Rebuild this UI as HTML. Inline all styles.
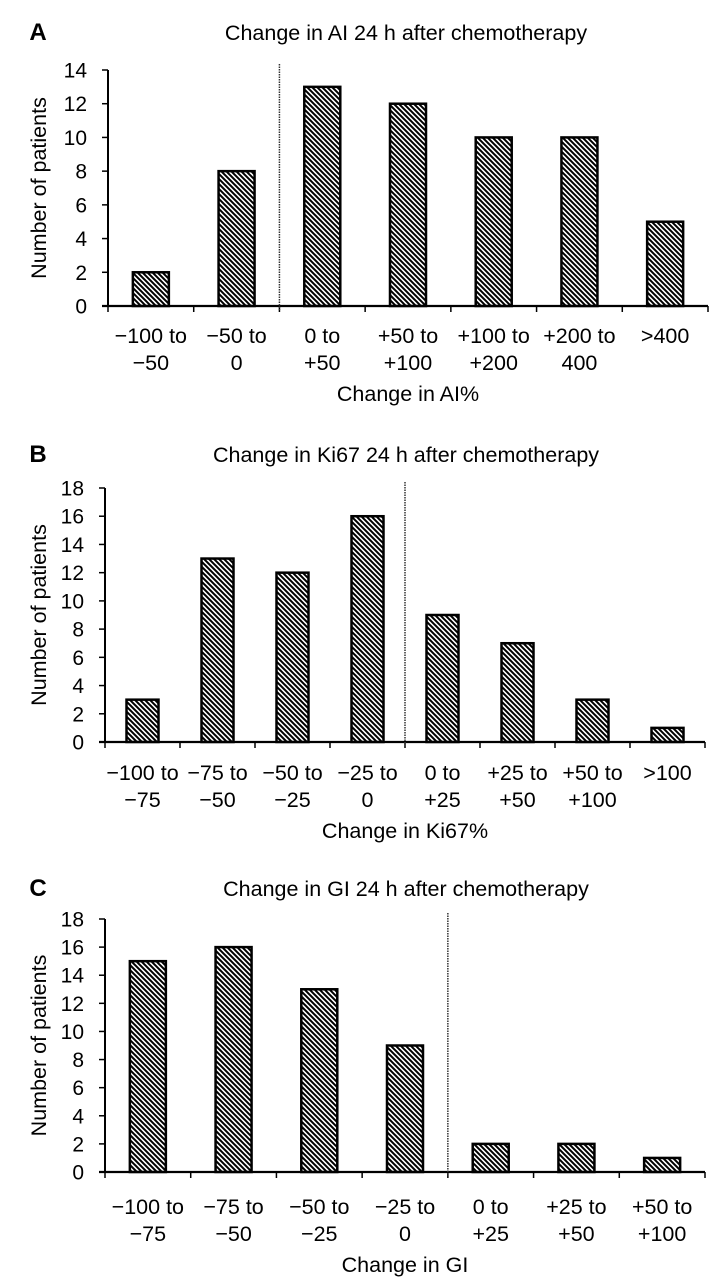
<!DOCTYPE html>
<html><head><meta charset="utf-8"><style>
body{margin:0;background:#fff;}
svg{display:block;font-family:"Liberation Sans",Arial,sans-serif;}
</style></head><body>
<svg id="fig" width="710" height="1283" viewBox="0 0 710 1283">
<defs>
<pattern id="hatch" patternUnits="userSpaceOnUse" width="5" height="5">
<path d="M0,0 L5,5 M-1,4 L1,6 M4,-1 L6,1" stroke="#000" stroke-width="2"/>
</pattern>
</defs>
</svg>
<script>
const catsA = [["−100 to","−50"],["−50 to","0"],["0 to","+50"],["+50 to","+100"],["+100 to","+200"],["+200 to","400"],[">400",""]];
const valsA = [2,8,13,12,10,10,5];
const ticksA = [0,2,4,6,8,10,12,14];
const catsB = [["−100 to","−75"],["−75 to","−50"],["−50 to","−25"],["−25 to","0"],["0 to","+25"],["+25 to","+50"],["+50 to","+100"],[">100",""]];
const valsB = [3,13,12,16,9,7,3,1];
const ticksB = [0,2,4,6,8,10,12,14,16,18];
const catsC = [["−100 to","−75"],["−75 to","−50"],["−50 to","−25"],["−25 to","0"],["0 to","+25"],["+25 to","+50"],["+50 to","+100"]];
const valsC = [15,16,13,9,2,2,1];
const ticksC = [0,2,4,6,8,10,12,14,16,18];

const svg = document.getElementById('fig');
const NS = 'http://www.w3.org/2000/svg';
function mk(tag, attrs, parent){const e=document.createElementNS(NS,tag);for(const k in attrs)e.setAttribute(k,attrs[k]);(parent||svg).appendChild(e);return e;}
function txt(s,x,y,size,anchor,parent,weight){const t=mk('text',{x:x,y:y,'font-size':size,'text-anchor':anchor||'middle',fill:'#000'},parent);if(weight)t.setAttribute('font-weight',weight);t.textContent=s;return t;}

function panel(o){
  const g = mk('g',{});
  
  
  const n = o.cats.length;
  const step = o.w / n;
  const ymax = o.ticks[o.ticks.length-1];
  const X = i => o.x0 + step*i;
  const Y = v => o.y0 - (o.y0 - o.yTop) * v / ymax;
  const L = txt(o.letter, 38, o.titleY, 24, 'middle', g, 'bold');
  
  
  const T = txt(o.title, o.titleX, o.titleY, 21.5, 'middle', g);
  
  
  const ya = mk('line',{x1:o.x0,y1:o.yTop,x2:o.x0,y2:o.y0+1,stroke:'#000','stroke-width':2},g);
  
  
  o.ticks.forEach(t=>{
    mk('line',{x1:o.x0-6,y1:Y(t),x2:o.x0,y2:Y(t),stroke:'#000','stroke-width':1.5},g);
    const tl = txt(String(t), o.x0-21, Y(t)+7.5, 21, 'end', g);
    
    
  });
  const yt = txt('Number of patients', 0, 0, 21.5, 'middle', g);
  yt.setAttribute('transform', 'translate(46,'+((o.yTop+o.y0)/2)+') rotate(-90)');
  
  
  o.vals.forEach((v,i)=>{
    const cx = X(i+0.5);
    const r = mk('rect',{x:cx-o.bw/2,y:Y(v),width:o.bw,height:o.y0-Y(v),fill:'url(#hatch)',stroke:'#000','stroke-width':2.5},g);
    
    
  });
  const xa = mk('line',{x1:o.x0-6,y1:o.y0,x2:o.x0+o.w,y2:o.y0,stroke:'#000','stroke-width':2.2},g);
  
  
  for(let i=0;i<=n;i++) mk('line',{x1:X(i),y1:o.y0,x2:X(i),y2:o.y0+6,stroke:'#000','stroke-width':1.5},g);
  o.cats.forEach((c,i)=>{
    const cx = X(i+0.5);
    const a = txt(c[0], cx, o.lab1, 21.5, 'middle', g);
    
    
    if(c[1]){const b = txt(c[1], cx, o.lab1+27, 21.5, 'middle', g);
      
      }
  });
  const xt = txt(o.xlabel, o.x0+o.w/2, o.lab1+58, 21.5, 'middle', g);
  
  
  const d = mk('line',{x1:X(o.div),y1:o.yTop-6,x2:X(o.div),y2:o.y0+4,stroke:'#333','stroke-width':1.5,'stroke-dasharray':'1.5,1'},g);
  
  
}

panel({id:'a',letter:'A',title:'Change in AI 24 h after chemotherapy',titleX:406,titleY:40,cats:catsA,vals:valsA,ticks:ticksA,x0:108,w:600,yTop:70,y0:306,bw:36,lab1:343,xlabel:'Change in AI%',div:2});
panel({id:'b',letter:'B',title:'Change in Ki67 24 h after chemotherapy',titleX:406,titleY:462,cats:catsB,vals:valsB,ticks:ticksB,x0:105,w:600,yTop:488,y0:742,bw:32,lab1:780,xlabel:'Change in Ki67%',div:4});
panel({id:'c',letter:'C',title:'Change in GI 24 h after chemotherapy',titleX:406,titleY:896,cats:catsC,vals:valsC,ticks:ticksC,x0:105,w:600,yTop:919,y0:1172,bw:36,lab1:1214,xlabel:'Change in GI',div:4});
</script>
</body></html>
